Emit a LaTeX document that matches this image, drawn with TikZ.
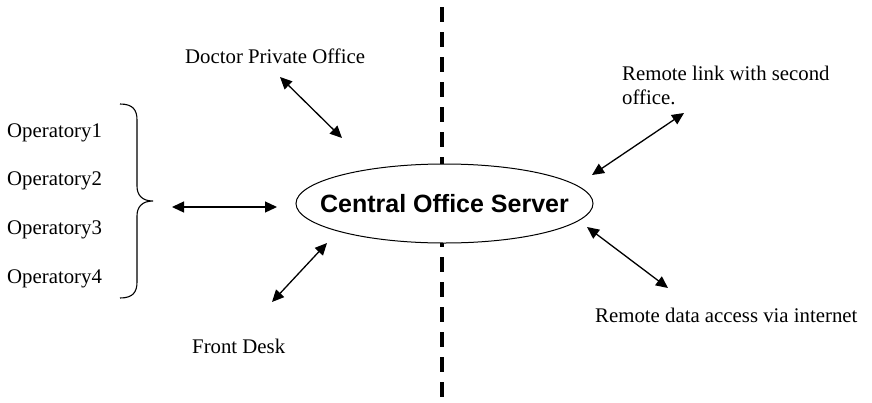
\documentclass[tikz,border=0pt]{standalone}
\usepackage{fontspec}
\setmainfont{Liberation Serif}
\newfontfamily\arialfont{Liberation Sans}
\usetikzlibrary{arrows.meta,shapes.geometric}
\tikzset{
  lbl/.style={font=\fontsize{20.8}{24}\selectfont, inner sep=0pt, anchor=base west},
  link/.style={line width=1.3pt, {Triangle[length=12pt,width=11pt]}-{Triangle[length=12pt,width=11pt]}},
  divider/.style={line width=4pt, dash pattern=on 15pt off 10pt},
  server/.style={ellipse, draw, line width=1pt, fill=white, minimum width=297pt, minimum height=79pt, inner sep=0pt, font=\arialfont\bfseries\fontsize{25}{30}\selectfont}
}
\begin{document}
\begin{tikzpicture}[x=1pt,y=-1pt]
\useasboundingbox (0,0) rectangle (872,402);
% divider
\coordinate (dtop) at (442,7);
\coordinate (dbot) at (442,398);
\draw[divider] (dtop) -- (dbot);
% server
\node[server] (srv) at (444.5,203.5) {\makebox[0pt]{Central Office Server}};
% labels
\node[lbl] (doc) at (185,63) {Doctor Private Office};
\node[lbl] (op1) at (7,137) {Operatory1};
\node[lbl] (op2) at (7,185.5) {Operatory2};
\node[lbl] (op3) at (7,234) {Operatory3};
\node[lbl] (op4) at (7,283) {Operatory4};
\node[lbl] (fd) at (192,353) {Front Desk};
\node[lbl] (rl1) at (622,80) {Remote link with second};
\node[lbl] (rl2) at (622,104) {office.};
\node[lbl] (rd) at (595,322) {Remote data access via internet};
% brace
\draw[line width=1.1pt] (120,104) .. controls (133,104) and (137,110) .. (137,120)
  -- (137,186) .. controls (137,195) and (142,201) .. (153,201)
  .. controls (142,201) and (137,207) .. (137,216)
  -- (137,282) .. controls (137,292) and (133,298) .. (120,298);
% arrow endpoints
\coordinate (opA) at (172,207);
\coordinate (opB) at (277,207);
\coordinate (docA) at (280,77);
\coordinate (docB) at (342,138);
\coordinate (fdA) at (327,243);
\coordinate (fdB) at (272,302);
\coordinate (rlA) at (684,113);
\coordinate (rlB) at (592,175);
\coordinate (rdA) at (587,227);
\coordinate (rdB) at (668,288);
\draw[link] (opA) -- (opB);
\draw[link] (docA) -- (docB);
\draw[link] (fdA) -- (fdB);
\draw[link] (rlA) -- (rlB);
\draw[link] (rdA) -- (rdB);
\end{tikzpicture}
\end{document}
